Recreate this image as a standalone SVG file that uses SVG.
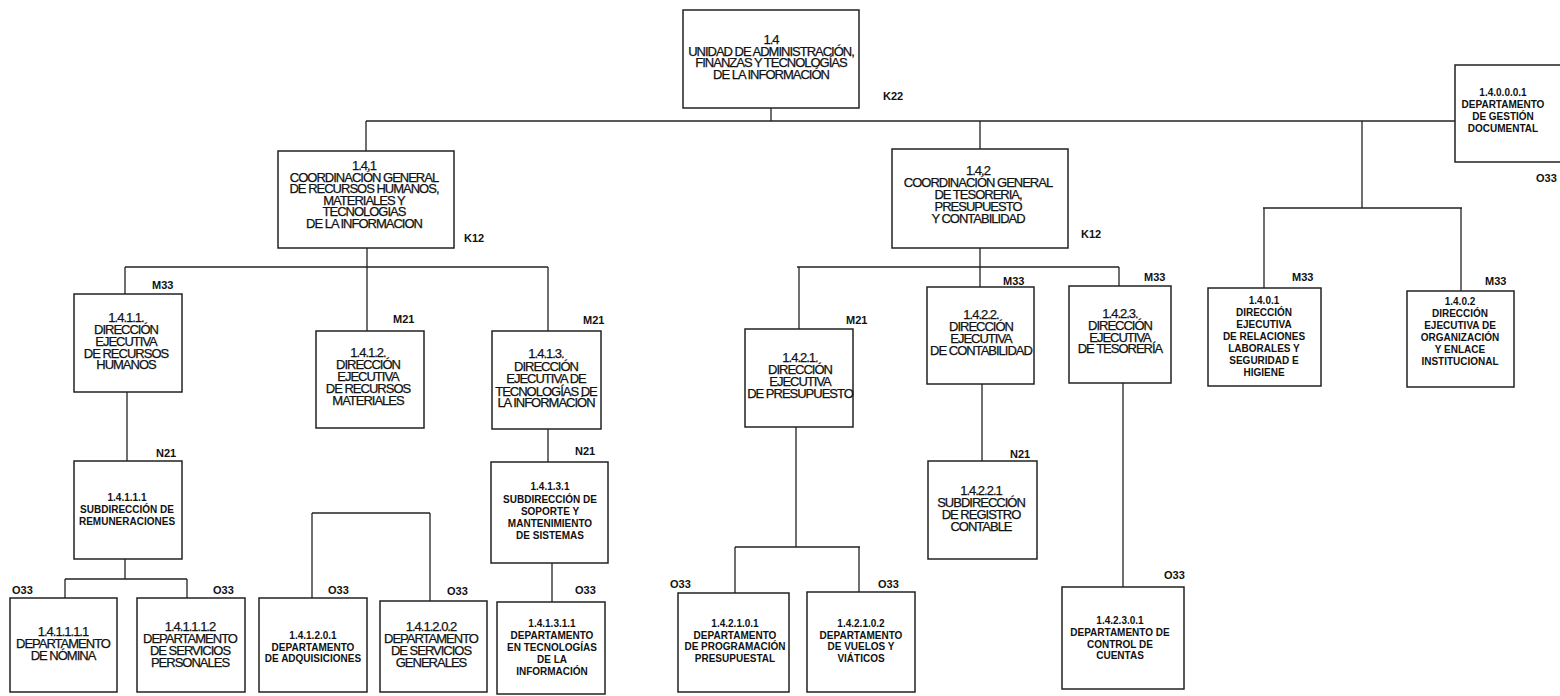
<svg xmlns="http://www.w3.org/2000/svg" width="1560" height="696" viewBox="0 0 1560 696">
<style>
rect.box{fill:#fff;stroke:#222;stroke-width:1.5}
.conn line{stroke:#222;stroke-width:1.3}
text{fill:#111;text-anchor:middle}
.lg{font-family:"Liberation Sans",Arial,sans-serif;font-size:13px;letter-spacing:-1px;stroke:#111;stroke-width:0.25}
.sm{font-family:"Liberation Sans",Arial,sans-serif;font-size:10px;font-weight:bold}
.lbl{font-family:"Liberation Sans",Arial,sans-serif;font-size:11px;font-weight:bold;text-anchor:start}
</style>
<rect width="1560" height="696" fill="#fff"/>
<g class="conn" id="connectors">
<line x1="771" y1="108" x2="771" y2="121"/>
<line x1="366" y1="121" x2="1455" y2="121"/>
<line x1="366" y1="121" x2="366" y2="151"/>
<line x1="980" y1="121" x2="980" y2="149"/>
<line x1="1362" y1="121" x2="1362" y2="208"/>
<line x1="1263" y1="208" x2="1462" y2="208"/>
<line x1="1264" y1="208" x2="1264" y2="288"/>
<line x1="1461" y1="208" x2="1461" y2="291"/>
<line x1="367" y1="248" x2="367" y2="267"/>
<line x1="125" y1="267" x2="548" y2="267"/>
<line x1="125" y1="267" x2="125" y2="300"/>
<line x1="367" y1="267" x2="367" y2="331"/>
<line x1="548" y1="267" x2="548" y2="331"/>
<line x1="127" y1="392" x2="127" y2="461"/>
<line x1="548" y1="429" x2="548" y2="462"/>
<line x1="125" y1="559" x2="125" y2="579"/>
<line x1="65" y1="579" x2="187" y2="579"/>
<line x1="65" y1="579" x2="65" y2="598"/>
<line x1="187" y1="579" x2="187" y2="598"/>
<line x1="312" y1="513" x2="430" y2="513"/>
<line x1="312" y1="513" x2="312" y2="598"/>
<line x1="430" y1="513" x2="430" y2="601"/>
<line x1="552" y1="563" x2="552" y2="602"/>
<line x1="980" y1="248" x2="980" y2="287"/>
<line x1="797" y1="267" x2="1119" y2="267"/>
<line x1="799" y1="267" x2="799" y2="329"/>
<line x1="1119" y1="267" x2="1119" y2="286"/>
<line x1="796" y1="427" x2="796" y2="547"/>
<line x1="735" y1="547" x2="860" y2="547"/>
<line x1="735" y1="547" x2="735" y2="593"/>
<line x1="859" y1="547" x2="859" y2="592"/>
<line x1="982" y1="384" x2="982" y2="461"/>
<line x1="1123" y1="383" x2="1123" y2="587"/>
</g>

<g id="n1_4">
<rect class="box" x="683" y="10" width="176" height="98"/>
<text class="lg" x="771" y="44">1.4</text>
<text class="lg" x="771" y="55.5">UNIDAD DE ADMINISTRACIÓN,</text>
<text class="lg" x="771" y="67">FINANZAS Y TECNOLOGÍAS</text>
<text class="lg" x="771" y="78.5">DE LA INFORMACIÓN</text>
<text class="lbl" x="883" y="100">K22</text>
</g>

<g id="n1_4_0_0_0_1">
<rect class="box" x="1455" y="65" width="110" height="97"/>
<text class="sm" x="1503" y="96">1.4.0.0.0.1</text>
<text class="sm" x="1503" y="108">DEPARTAMENTO</text>
<text class="sm" x="1503" y="120">DE GESTIÓN</text>
<text class="sm" x="1503" y="132">DOCUMENTAL</text>
<text class="lbl" x="1536" y="182">O33</text>
</g>

<g id="n1_4_1">
<rect class="box" x="278" y="151" width="176" height="97"/>
<text class="lg" x="364" y="170">1.4.1</text>
<text class="lg" x="364" y="181.5">COORDINACIÓN GENERAL</text>
<text class="lg" x="364" y="193">DE RECURSOS HUMANOS,</text>
<text class="lg" x="364" y="204.5">MATERIALES Y</text>
<text class="lg" x="364" y="216">TECNOLOGIAS</text>
<text class="lg" x="364" y="227.5">DE LA INFORMACION</text>
<text class="lbl" x="464" y="242">K12</text>
</g>

<g id="n1_4_2">
<rect class="box" x="892" y="149" width="176" height="99"/>
<text class="lg" x="978" y="175">1.4.2</text>
<text class="lg" x="978" y="187">COORDINACIÓN GENERAL</text>
<text class="lg" x="978" y="199">DE TESORERIA,</text>
<text class="lg" x="978" y="211">PRESUPUESTO</text>
<text class="lg" x="978" y="223">Y CONTABILIDAD</text>
<text class="lbl" x="1081" y="238">K12</text>
</g>

<g id="n1_4_1_1">
<rect class="box" x="74" y="294" width="108" height="98"/>
<text class="lg" x="126" y="322">1.4.1.1.</text>
<text class="lg" x="126" y="334">DIRECCIÓN</text>
<text class="lg" x="126" y="346">EJECUTIVA</text>
<text class="lg" x="126" y="357.5">DE RECURSOS</text>
<text class="lg" x="126" y="369">HUMANOS</text>
<text class="lbl" x="152" y="289">M33</text>
</g>

<g id="n1_4_1_2">
<rect class="box" x="316" y="331" width="108" height="97"/>
<text class="lg" x="368" y="357">1.4.1.2.</text>
<text class="lg" x="368" y="369">DIRECCIÓN</text>
<text class="lg" x="368" y="381">EJECUTIVA</text>
<text class="lg" x="368" y="393">DE RECURSOS</text>
<text class="lg" x="368" y="405">MATERIALES</text>
<text class="lbl" x="393" y="323">M21</text>
</g>

<g id="n1_4_1_3">
<rect class="box" x="492" y="331" width="109" height="98"/>
<text class="lg" x="546" y="358">1.4.1.3.</text>
<text class="lg" x="546" y="370.5">DIRECCIÓN</text>
<text class="lg" x="546" y="383">EJECUTIVA DE</text>
<text class="lg" x="546" y="395.5">TECNOLOGÍAS DE</text>
<text class="lg" x="546" y="407">LA INFORMACIÓN</text>
<text class="lbl" x="583" y="324">M21</text>
</g>

<g id="n1_4_1_1_1">
<rect class="box" x="74" y="461" width="108" height="98"/>
<text class="sm" x="127" y="501">1.4.1.1.1</text>
<text class="sm" x="127" y="513">SUBDIRECCIÓN DE</text>
<text class="sm" x="127" y="525">REMUNERACIONES</text>
<text class="lbl" x="156" y="457">N21</text>
</g>

<g id="n1_4_1_3_1">
<rect class="box" x="491" y="462" width="117" height="101"/>
<text class="sm" x="550" y="490">1.4.1.3.1</text>
<text class="sm" x="550" y="503">SUBDIRECCIÓN DE</text>
<text class="sm" x="550" y="515">SOPORTE Y</text>
<text class="sm" x="550" y="527">MANTENIMIENTO</text>
<text class="sm" x="550" y="539">DE SISTEMAS</text>
<text class="lbl" x="575" y="455">N21</text>
</g>

<g id="n1_4_1_1_1_1">
<rect class="box" x="10" y="598" width="107" height="94"/>
<text class="lg" x="63" y="636">1.4.1.1.1.1</text>
<text class="lg" x="63" y="648">DEPARTAMENTO</text>
<text class="lg" x="63" y="659.5">DE NÓMINA</text>
<text class="lbl" x="12" y="594">O33</text>
</g>

<g id="n1_4_1_1_1_2">
<rect class="box" x="137" y="598" width="108" height="94"/>
<text class="lg" x="190" y="631">1.4.1.1.1.2</text>
<text class="lg" x="190" y="643">DEPARTAMENTO</text>
<text class="lg" x="190" y="655">DE SERVICIOS</text>
<text class="lg" x="190" y="667">PERSONALES</text>
<text class="lbl" x="213" y="594">O33</text>
</g>

<g id="n1_4_1_2_0_1">
<rect class="box" x="259" y="598" width="108" height="94"/>
<text class="sm" x="313" y="639">1.4.1.2.0.1</text>
<text class="sm" x="313" y="650.5">DEPARTAMENTO</text>
<text class="sm" x="313" y="662">DE ADQUISICIONES</text>
<text class="lbl" x="328" y="594">O33</text>
</g>

<g id="n1_4_1_2_0_2">
<rect class="box" x="380" y="601" width="107" height="91"/>
<text class="lg" x="431" y="631">1.4.1.2.0.2</text>
<text class="lg" x="431" y="643">DEPARTAMENTO</text>
<text class="lg" x="431" y="655">DE SERVICIOS</text>
<text class="lg" x="431" y="667">GENERALES</text>
<text class="lbl" x="447" y="595">O33</text>
</g>

<g id="n1_4_1_3_1_1">
<rect class="box" x="497" y="602" width="108" height="92"/>
<text class="sm" x="552" y="627">1.4.1.3.1.1</text>
<text class="sm" x="552" y="639">DEPARTAMENTO</text>
<text class="sm" x="552" y="651">EN TECNOLOGÍAS</text>
<text class="sm" x="552" y="663">DE LA</text>
<text class="sm" x="552" y="675">INFORMACIÓN</text>
<text class="lbl" x="575" y="594">O33</text>
</g>

<g id="n1_4_2_1">
<rect class="box" x="745" y="329" width="108" height="98"/>
<text class="lg" x="800" y="362">1.4.2.1.</text>
<text class="lg" x="800" y="374">DIRECCIÓN</text>
<text class="lg" x="800" y="386">EJECUTIVA</text>
<text class="lg" x="800" y="397.5">DE PRESUPUESTO</text>
<text class="lbl" x="846" y="324">M21</text>
</g>

<g id="n1_4_2_2">
<rect class="box" x="927" y="287" width="107" height="97"/>
<text class="lg" x="981" y="319">1.4.2.2.</text>
<text class="lg" x="981" y="331">DIRECCIÓN</text>
<text class="lg" x="981" y="343">EJECUTIVA</text>
<text class="lg" x="981" y="355">DE CONTABILIDAD</text>
<text class="lbl" x="1003" y="285">M33</text>
</g>

<g id="n1_4_2_3">
<rect class="box" x="1069" y="286" width="102" height="97"/>
<text class="lg" x="1120" y="318">1.4.2.3.</text>
<text class="lg" x="1120" y="330">DIRECCIÓN</text>
<text class="lg" x="1120" y="342">EJECUTIVA</text>
<text class="lg" x="1120" y="353">DE TESORERÍA</text>
<text class="lbl" x="1144" y="281">M33</text>
</g>

<g id="n1_4_2_2_1">
<rect class="box" x="928" y="461" width="109" height="98"/>
<text class="lg" x="981" y="495">1.4.2.2.1</text>
<text class="lg" x="981" y="507">SUBDIRECCIÓN</text>
<text class="lg" x="981" y="519">DE REGISTRO</text>
<text class="lg" x="981" y="531">CONTABLE</text>
<text class="lbl" x="1010" y="458">N21</text>
</g>

<g id="n1_4_2_1_0_1">
<rect class="box" x="678" y="593" width="111" height="99"/>
<text class="sm" x="735" y="627">1.4.2.1.0.1</text>
<text class="sm" x="735" y="638.5">DEPARTAMENTO</text>
<text class="sm" x="735" y="650">DE PROGRAMACIÓN</text>
<text class="sm" x="735" y="662">PRESUPUESTAL</text>
<text class="lbl" x="670" y="588">O33</text>
</g>

<g id="n1_4_2_1_0_2">
<rect class="box" x="807" y="592" width="108" height="100"/>
<text class="sm" x="861" y="627">1.4.2.1.0.2</text>
<text class="sm" x="861" y="638.5">DEPARTAMENTO</text>
<text class="sm" x="861" y="650">DE VUELOS Y</text>
<text class="sm" x="861" y="662">VIÁTICOS</text>
<text class="lbl" x="878" y="588">O33</text>
</g>

<g id="n1_4_2_3_0_1">
<rect class="box" x="1062" y="587" width="122" height="102"/>
<text class="sm" x="1120" y="624">1.4.2.3.0.1</text>
<text class="sm" x="1120" y="636">DEPARTAMENTO  DE</text>
<text class="sm" x="1120" y="647.5">CONTROL DE</text>
<text class="sm" x="1120" y="659">CUENTAS</text>
<text class="lbl" x="1164" y="579">O33</text>
</g>

<g id="n1_4_0_1">
<rect class="box" x="1208" y="288" width="113" height="98"/>
<text class="sm" x="1264" y="304">1.4.0.1</text>
<text class="sm" x="1264" y="316">DIRECCIÓN</text>
<text class="sm" x="1264" y="328">EJECUTIVA</text>
<text class="sm" x="1264" y="340">DE RELACIONES</text>
<text class="sm" x="1264" y="352">LABORALES Y</text>
<text class="sm" x="1264" y="364">SEGURIDAD E</text>
<text class="sm" x="1264" y="376">HIGIENE</text>
<text class="lbl" x="1292" y="281">M33</text>
</g>

<g id="n1_4_0_2">
<rect class="box" x="1407" y="291" width="107" height="96"/>
<text class="sm" x="1460" y="305">1.4.0.2</text>
<text class="sm" x="1460" y="317">DIRECCIÓN</text>
<text class="sm" x="1460" y="329">EJECUTIVA  DE</text>
<text class="sm" x="1460" y="341">ORGANIZACIÓN</text>
<text class="sm" x="1460" y="353">Y ENLACE</text>
<text class="sm" x="1460" y="365">INSTITUCIONAL</text>
<text class="lbl" x="1485" y="285">M33</text>
</g>
</svg>
